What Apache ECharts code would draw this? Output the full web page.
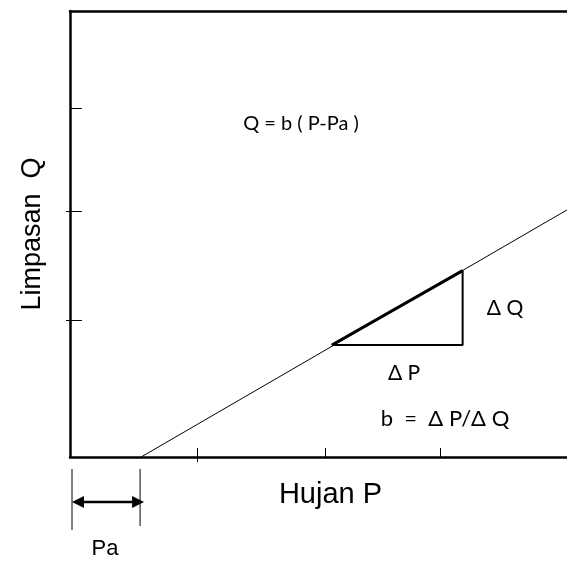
<!DOCTYPE html>
<html><head><meta charset="utf-8">
<script src="https://cdn.jsdelivr.net/npm/echarts@6/dist/echarts.min.js"></script>
<style>html,body{margin:0;padding:0;background:#fff}#c{width:567px;height:561px}</style>
</head><body><div id="c"></div>
<script>
// ---- data (schematic units) ----
const xRange = [0, 100];
const yRange = [0, 100];
const xTicksInside = [25.6, 51.3, 74.4];
const xTicksOutside = [25.6];
const yTicksInside = [78.1, 55.1, 30.6];
const yTicksOutside = [55.1, 30.6];
const Pa = 14.3;
const lineP = [14.3, 100];
const lineQ = [0, 55.4];
const triP = [52.7, 79.0, 79.0, 52.7];
const triQ = [25.1, 41.8, 25.1, 25.1];
const hypP = [52.7, 79.0];
const hypQ = [25.1, 41.8];
const xName = 'Hujan P';
const yName = 'Limpasan  Q';
const formulaText = 'Q = b ( P-Pa )';
const dQText = '\u0394 Q';
const dPText = '\u0394 P';
const bText = 'b  =  \u0394 P/\u0394 Q';
const paText = 'Pa';

const zip = (a, b) => a.map((v, i) => [v, b[i]]);
const chart = echarts.init(document.getElementById('c'));
const sans = '"Liberation Sans", Arial, sans-serif';
const cal = 'Lato, "Noto Sans", sans-serif';
const axBase = {type: 'value', min: xRange[0], max: xRange[1], splitLine: {show: false}, axisLabel: {show: false}};
chart.setOption({
  animation: false,
  backgroundColor: '#fff',
  grid: {left: 70, right: 0, top: 11, bottom: 104},
  xAxis: [
    Object.assign({}, axBase, {position: 'bottom', name: xName, nameLocation: 'middle', nameGap: 23,
      nameTextStyle: {fontFamily: sans, fontSize: 29, color: '#000', padding: [0, 0, 0, 24]},
      axisLine: {show: true, onZero: false, lineStyle: {color: '#000', width: 2.5}},
      axisTick: {show: true, inside: true, length: 9, customValues: xTicksInside, lineStyle: {color: '#000', width: 1}}}),
    Object.assign({}, axBase, {position: 'top',
      axisLine: {show: true, onZero: false, lineStyle: {color: '#000', width: 2.5}}, axisTick: {show: false}}),
    Object.assign({}, axBase, {position: 'bottom',
      axisLine: {show: false, onZero: false}, axisTick: {show: true, inside: false, length: 5, customValues: xTicksOutside, lineStyle: {color: '#000', width: 1}}})
  ],
  yAxis: [
    Object.assign({}, axBase, {min: yRange[0], max: yRange[1], position: 'left', name: yName, nameLocation: 'middle', nameGap: 24, nameRotate: 90,
      nameTextStyle: {fontFamily: sans, fontSize: 27, color: '#000'},
      axisLine: {show: true, onZero: false, lineStyle: {color: '#000', width: 2.5}},
      axisTick: {show: true, inside: true, length: 12, customValues: yTicksInside, lineStyle: {color: '#000', width: 1}}}),
    Object.assign({}, axBase, {min: yRange[0], max: yRange[1], position: 'left',
      axisLine: {show: false, onZero: false}, axisTick: {show: true, inside: false, length: 4, customValues: yTicksOutside, lineStyle: {color: '#000', width: 1}}})
  ],
  series: [
    {type: 'line', data: zip(lineP, lineQ), showSymbol: false, symbol: 'none', lineStyle: {color: '#000', width: 1}, z: 3},
    {type: 'line', data: zip(triP, triQ), showSymbol: false, symbol: 'none', lineStyle: {color: '#000', width: 2}, z: 4},
    {type: 'line', data: zip(hypP, hypQ), showSymbol: false, symbol: 'none', lineStyle: {color: '#000', width: 3}, z: 5}
  ]
});

function px(v) { return chart.convertToPixel({xAxisIndex: 0, yAxisIndex: 0}, v); }
const p0 = px([xRange[0], 0]);
const pA = px([Pa, 0]);
const xL = p0[0] + 2, xR = pA[0] - 1, yBase = p0[1];
const ay = yBase + 45;
const head = 12, hw = 6;
chart.setOption({
  graphic: [
    {type: 'line', shape: {x1: xL, y1: yBase + 12, x2: xL, y2: yBase + 73}, style: {stroke: '#000', lineWidth: 1}},
    {type: 'line', shape: {x1: xR, y1: yBase + 12, x2: xR, y2: yBase + 69}, style: {stroke: '#000', lineWidth: 1}},
    {type: 'line', shape: {x1: xL + head, y1: ay, x2: xR + 4 - head, y2: ay}, style: {stroke: '#000', lineWidth: 2.5}},
    {type: 'polygon', shape: {points: [[xL, ay], [xL + head, ay - hw], [xL + head, ay + hw]]}, style: {fill: '#000'}},
    {type: 'polygon', shape: {points: [[xR + 4, ay], [xR + 4 - head, ay - hw], [xR + 4 - head, ay + hw]]}, style: {fill: '#000'}},
    {type: 'text', x: (xL + xR) / 2 - 1, y: ay + 47, style: {text: paText, font: '22px ' + sans, fill: '#000', align: 'center', verticalAlign: 'middle'}},
    {type: 'text', x: 301, y: 124, style: {text: formulaText, font: '20px ' + cal, fill: '#000', align: 'center', verticalAlign: 'middle'}},
    {type: 'text', x: 505, y: 308, style: {text: dQText, font: '21px ' + cal, fill: '#000', align: 'center', verticalAlign: 'middle'}},
    {type: 'text', x: 404, y: 373, style: {text: dPText, font: '21px ' + cal, fill: '#000', align: 'center', verticalAlign: 'middle'}},
    {type: 'text', x: 445, y: 419, style: {text: bText, font: '22px ' + cal, fill: '#000', align: 'center', verticalAlign: 'middle'}}
  ]
});
</script></body></html>
